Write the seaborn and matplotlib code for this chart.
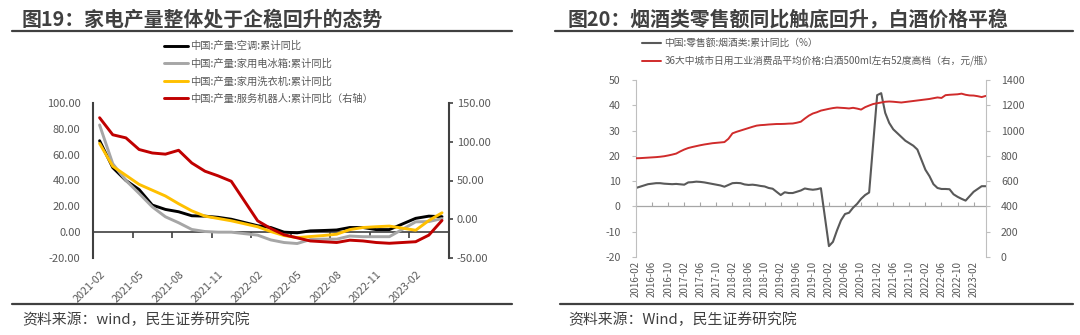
import matplotlib
matplotlib.use("Agg")
import matplotlib.pyplot as plt
from matplotlib.lines import Line2D
import numpy as np
import pandas as pd
import seaborn as sns

sns.set_theme(style="white")
plt.rcParams["font.family"] = ["Noto Sans CJK SC", "DejaVu Sans"]
plt.rcParams["axes.unicode_minus"] = False

# ---------------- 图19: appliance output, cumulative YoY (%) ----------------
# monthly 2021-02 .. 2023-04, January figures are not published (None)
appliance_months = pd.date_range("2021-02-01", "2023-04-01", freq="MS").strftime("%Y-%m").tolist()
ac_yoy = [70.8, 50, 40, 33, 21, 17.6, 15.8, 12.7, 12.4, 11.5, 10, None, 5, 3.6, 0, -0.5, 1, 1.3,
          1.7, 3.6, 3.6, 2, 2, None, 10.7, 12.4, 12]
fridge_yoy = [83, 53, 40, 30, 19.6, 11.9, 7.3, 2.1, 0.5, 0, 0, None, -2.3, -6, -8, -8.8, -5.7, -5.4,
              -5.4, -3, -3.5, -3.5, -3.5, None, 8, 8.2, 10.5]
washer_yoy = [68.7, 51, 44, 37, 32.5, 28, 22, 16.5, 12.4, 10.6, 8.8, None, 4.2, 0.5, -2.6, -4.2, -3.4,
              -2.6, -1.6, 2, 3.6, 4.2, 4.7, None, 1.5, 9, 15]
robot_yoy = [131, 109, 105, 90, 85.5, 84, 89, 72.6, 62, 56, 49, None, -2, -12, -20, -24, -28, -29,
             -30, -27, -28, -30, -31, None, -29, -20.5, -1.5]
appliance_names = ["中国:产量:空调:累计同比", "中国:产量:家用电冰箱:累计同比",
                   "中国:产量:家用洗衣机:累计同比", "中国:产量:服务机器人:累计同比（右轴）"]
left_ticks_y = [-20, 0, 20, 40, 60, 80, 100]
right_ticks_y = [-50, 0, 50, 100, 150]

# ---------------- 图20: tobacco & liquor retail, baijiu price ----------------
# monthly 2016-02 .. 2023-05
liquor_months = pd.date_range("2016-02-01", "2023-05-01", freq="MS").strftime("%Y-%m").tolist()
tobacco_yoy = (
    [7.3, 7.8, 8.3, 8.8, 9.0, 9.2, 9.2, 9.0, 8.9, 8.8, 8.9]                        # 2016
    + [None, 8.6, 9.5, 9.6, 9.8, 9.7, 9.5, 9.2, 8.9, 8.6, 8.3, 7.8]                # 2017
    + [None, 9.2, 9.3, 9.2, 8.7, 8.5, 8.6, 8.4, 8.1, 7.9, 7.3, 7.0]                # 2018
    + [None, 4.5, 5.6, 5.3, 5.3, 5.8, 6.3, 7.1, 6.8, 6.6, 6.8, 7.2]                # 2019
    + [None, -15.7, -14.0, -9.5, -5.5, -3.0, -2.5, -0.5, 1.0, 3.0, 4.5, 5.5]       # 2020
    + [None, 44.0, 44.8, 37.0, 33.0, 30.5, 29.0, 27.5, 26.0, 25.0, 24.0, 22.5]     # 2021
    + [None, 14.5, 12.0, 8.8, 7.3, 6.9, 6.9, 6.8, 4.8, 3.8, 3.0, 2.3]              # 2022
    + [None, 5.8, 6.9, 8.0, 8.0]                                                   # 2023
)
baijiu_price = (
    [781, 782, 784, 786, 788, 790, 793, 797, 803, 810, 818]
    + [835, 850, 862, 870, 877, 884, 890, 895, 900, 903, 906, 909]
    + [935, 978, 990, 1000, 1010, 1020, 1030, 1039, 1043, 1045, 1048, 1050]
    + [1052, 1052, 1053, 1055, 1056, 1062, 1070, 1095, 1118, 1135, 1145, 1158]
    + [1165, 1172, 1178, 1182, 1180, 1178, 1175, 1180, 1174, 1166, 1185, 1198]
    + [1210, 1216, 1222, 1228, 1230, 1228, 1225, 1222, 1226, 1230, 1234, 1238]
    + [1242, 1246, 1250, 1256, 1262, 1258, 1280, 1283, 1285, 1287, 1292, 1283]
    + [1278, 1277, 1272, 1265, 1274]
)
liquor_names = ["中国:零售额:烟酒类:累计同比（%）",
                "36大中城市日用工业消费品平均价格:白酒500ml左右52度高档（右，元/瓶）"]
liquor_ticks_left = [-20, -10, 0, 10, 20, 30, 40, 50]
liquor_ticks_right = [0, 200, 400, 600, 800, 1000, 1200, 1400]

TEXT = "#595959"
DARK = "#404040"

fig = plt.figure(figsize=(10.8, 3.35), dpi=100)
W, H = 1080, 335


def fx(px):
    return px / W


def fy(py):
    return 1 - py / H


# ---------------------------- left panel ----------------------------
n_l = len(appliance_months)
df_l = pd.DataFrame({"pos": np.arange(n_l), "month": appliance_months,
                     appliance_names[0]: ac_yoy, appliance_names[1]: fridge_yoy,
                     appliance_names[2]: washer_yoy, appliance_names[3]: robot_yoy})
long_l = df_l.melt(id_vars=["pos", "month"], var_name="series", value_name="value").dropna()
left_colors = {appliance_names[0]: "#000000", appliance_names[1]: "#A6A6A6",
               appliance_names[2]: "#FFC000", appliance_names[3]: "#C00000"}

axL = fig.add_axes([fx(93), fy(258), fx(448.6 - 93), 155 / H])
axL2 = axL.twinx()
sns.lineplot(data=long_l[long_l.series != appliance_names[3]], x="pos", y="value", hue="series",
             hue_order=appliance_names[:3], palette=left_colors, linewidth=2.1,
             estimator=None, errorbar=None, legend=False, ax=axL)
sns.lineplot(data=long_l[long_l.series == appliance_names[3]], x="pos", y="value",
             color=left_colors[appliance_names[3]], linewidth=2.1,
             estimator=None, errorbar=None, legend=False, ax=axL2)

axL.set_xlim(-0.5, n_l - 0.5)
axL.set_ylim(-20, 100)
axL2.set_ylim(-50, 150)
axL.set_yticks(left_ticks_y, [f"{v:.2f}" for v in left_ticks_y])
axL2.set_yticks(right_ticks_y, [f"{v:.2f}" for v in right_ticks_y])
lab_pos = list(range(0, n_l - 1, 3))
axL.set_xticks(lab_pos, [appliance_months[i] for i in lab_pos], rotation=45, ha="right",
               rotation_mode="anchor")
axL.tick_params(axis="x", length=0, pad=8, labelsize=7.8, labelcolor=TEXT)
axL.tick_params(axis="y", length=0, pad=9, labelsize=8, labelcolor=TEXT)
axL2.tick_params(axis="y", length=3, width=1.2, color=DARK, pad=3, labelsize=8, labelcolor=TEXT)
for ax in (axL, axL2):
    ax.set_xlabel("")
    ax.set_ylabel("")
    ax.set_facecolor("none")
    for s in ax.spines.values():
        s.set_visible(False)
axL.spines["left"].set_visible(True)
axL.spines["left"].set_color(DARK)
axL.spines["left"].set_linewidth(1.5)
axL2.spines["right"].set_visible(True)
axL2.spines["right"].set_color(DARK)
axL2.spines["right"].set_linewidth(1.5)

# zero line of the left axis with category separators
zl = axL.secondary_xaxis(20 / 120)
zl.set_xticks([p + 2.5 for p in lab_pos])
zl.tick_params(axis="x", direction="out", length=4, width=1.2, color=DARK, labelbottom=False,
               labeltop=False)
for s in zl.spines.values():
    s.set_color(DARK)
    s.set_linewidth(1.2)

leg_l = [Line2D([], [], color=left_colors[n], lw=2.1) for n in appliance_names]
fig.legend(leg_l, appliance_names, loc="upper left", bbox_to_anchor=(fx(164), fy(41)),
           frameon=False, fontsize=7.4, labelcolor=TEXT, handlelength=2.3, handletextpad=0.2,
           labelspacing=0.72, borderpad=0, borderaxespad=0)

# ---------------------------- right panel ----------------------------
n_r = len(liquor_months)
df_r = pd.DataFrame({"pos": np.arange(n_r), "month": liquor_months,
                     "yoy": tobacco_yoy, "price": baijiu_price})
axR = fig.add_axes([fx(636), fy(257), fx(985.7 - 636), 177 / H])
axR2 = axR.twinx()
sns.lineplot(data=df_r.dropna(subset=["yoy"]), x="pos", y="yoy", color="#595959", linewidth=1.5,
             estimator=None, errorbar=None, ax=axR)
sns.lineplot(data=df_r, x="pos", y="price", color="#D02B2B", linewidth=1.4,
             estimator=None, errorbar=None, ax=axR2)
axR.set_xlim(0, n_r - 1)
axR.set_ylim(-20, 50)
axR2.set_ylim(0, 1400)
axR.set_yticks(liquor_ticks_left, [str(v) for v in liquor_ticks_left])
axR2.set_yticks(liquor_ticks_right, [str(v) for v in liquor_ticks_right])
rlab = list(range(0, n_r - 3, 4))
axR.set_xticks(rlab, [liquor_months[i] for i in rlab], rotation=90)
axR.tick_params(axis="x", length=0, pad=3, labelsize=7, labelcolor=TEXT)
axR.tick_params(axis="y", length=3, width=0.8, color="#BFBFBF", pad=8, labelsize=7.6,
                labelcolor=TEXT)
axR2.tick_params(axis="y", length=3, width=0.8, color="#BFBFBF", pad=8, labelsize=7.6,
                 labelcolor=TEXT)
for ax in (axR, axR2):
    ax.set_xlabel("")
    ax.set_ylabel("")
    ax.set_facecolor("none")
    for s in ax.spines.values():
        s.set_visible(False)
axR.spines["left"].set_visible(True)
axR.spines["left"].set_color("#BFBFBF")
axR.spines["left"].set_linewidth(0.8)
axR2.spines["right"].set_visible(True)
axR2.spines["right"].set_color("#BFBFBF")
axR2.spines["right"].set_linewidth(0.8)

zr = axR.secondary_xaxis(20 / 70)
zr.set_xticks(rlab)
zr.tick_params(axis="x", direction="in", length=3, width=0.8, color="#A6A6A6", labelbottom=False,
               labeltop=False)
for s in zr.spines.values():
    s.set_color("#A6A6A6")
    s.set_linewidth(0.9)

leg_r = [Line2D([], [], color="#595959", lw=1.5), Line2D([], [], color="#D02B2B", lw=1.4)]
fig.legend(leg_r, liquor_names, loc="upper left", bbox_to_anchor=(fx(642), fy(38)),
           frameon=False, fontsize=7, labelcolor=TEXT, handlelength=2.0, handletextpad=0.3,
           labelspacing=0.8, borderpad=0, borderaxespad=0)

# ---------------------------- titles, rules, sources ----------------------------
fig.text(fx(22), fy(19), "图19：家电产量整体处于企稳回升的态势", fontsize=14.3,
         fontweight="bold", color=DARK, va="center", ha="left")
fig.text(fx(568), fy(19), "图20：烟酒类零售额同比触底回升，白酒价格平稳", fontsize=14.3,
         fontweight="bold", color=DARK, va="center", ha="left")
for x0, x1 in ((12, 512), (555, 1073)):
    fig.add_artist(Line2D([fx(x0), fx(x1)], [fy(31), fy(31)], color=DARK, lw=1.6))
for x0, x1 in ((12, 512), (560, 1073)):
    fig.add_artist(Line2D([fx(x0), fx(x1)], [fy(304), fy(304)], color=DARK, lw=1.6))
fig.text(fx(22), fy(320), "资料来源：wind，民生证券研究院", fontsize=10.7, color=DARK,
         va="center", ha="left")
fig.text(fx(568), fy(320), "资料来源：Wind，民生证券研究院", fontsize=10.7, color=DARK,
         va="center", ha="left")

fig.savefig("out.png", dpi=100)
